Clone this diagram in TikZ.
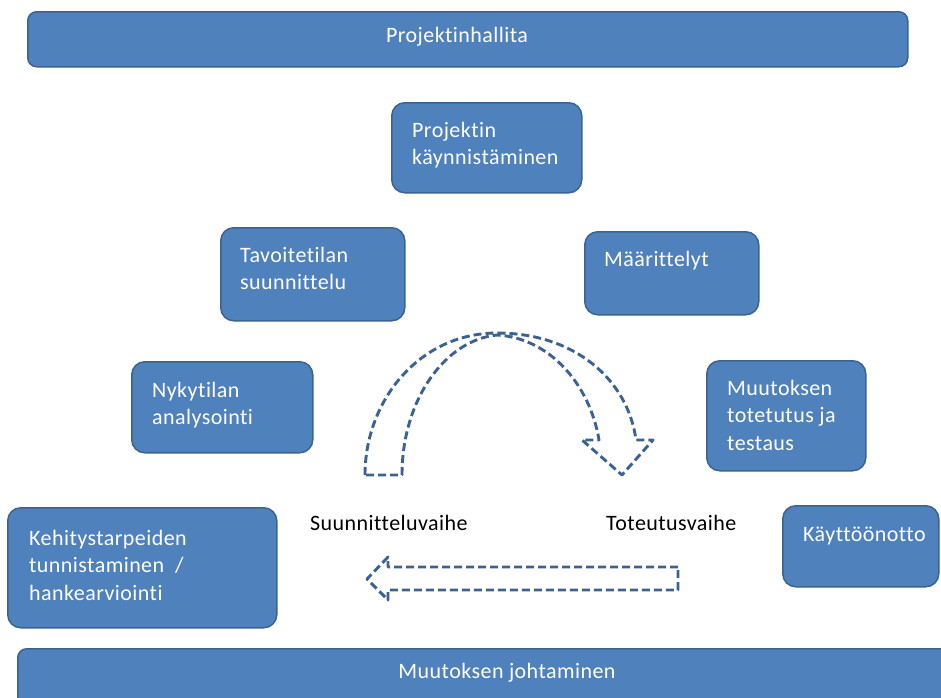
\documentclass[tikz,border=0pt]{standalone}
\usepackage{fontspec}
\setmainfont{Carlito}[LetterSpace=2, Ligatures={NoCommon}]
\definecolor{boxfill}{HTML}{4F81BD}
\definecolor{boxline}{HTML}{3A6391}
\definecolor{arrowline}{HTML}{3B6290}

\begin{document}
\begin{tikzpicture}[x=1pt,y=-1pt,
  box/.style={draw=boxline, line width=1.5pt, fill=boxfill, rounded corners=13pt,
              anchor=north west, inner sep=0pt},
  bar/.style={box, rounded corners=9pt},
  % multi-line labels are anchored at the baseline of their last line
  txt/.style={text=white, font=\fontsize{22}{27.5}\selectfont, anchor=base west,
              inner sep=0pt, align=left},
  bartxt/.style={text=white, font=\fontsize{22}{27.5}\selectfont, anchor=base, inner sep=0pt},
  phase/.style={text=black, font=\fontsize{22}{27.5}\selectfont, anchor=base west, inner sep=0pt},
  flow/.style={draw=arrowline, line width=2.9pt, dash pattern=on 8pt off 4pt,
               line join=round, line cap=butt}]
\useasboundingbox (0,0) rectangle (941,697);

% management bars
\node[bar, minimum width=880pt, minimum height=55pt] (pm) at (27,11) {};
\node[bartxt] (pmt) at (457,42) {Projektinhallita};
\node[bar, minimum width=940pt, minimum height=60pt] (cm) at (17,648) {};
\node[bartxt] (cmt) at (507,678) {Muutoksen johtaminen};

% phase boxes
\node[box, minimum width=190pt, minimum height=90pt] (start) at (391,102) {};
\node[txt] at (412,164.5) {Projektin\\käynnistäminen};

\node[box, minimum width=184pt, minimum height=93pt] (target) at (220,227) {};
\node[txt] at (240,289.5) {Tavoitetilan\\suunnittelu};

\node[box, minimum width=174pt, minimum height=83pt] (spec) at (584,231) {};
\node[txt] at (604,266) {Määrittelyt};

\node[box, minimum width=181pt, minimum height=91pt] (current) at (131,361) {};
\node[txt] at (152,424.5) {Nykytilan\\analysointi};

\node[box, minimum width=159pt, minimum height=110pt] (impl) at (706,360) {};
\node[txt] at (727,450) {Muutoksen\\totetutus ja\\testaus};

\node[box, minimum width=269pt, minimum height=120pt] (needs) at (7,507) {};
\node[txt] at (29,600) {Kehitystarpeiden\\tunnistaminen\ \ /\\hankearviointi};

\node[box, minimum width=156pt, minimum height=81pt] (deploy) at (782,505) {};
\node[txt] at (803,541) {Käyttöönotto};

% phase labels
\node[phase] (plan) at (310,530) {Suunnitteluvaihe};
\node[phase] (exec) at (606,530) {Toteutusvaihe};

% curved block arrow from planning to execution
\draw[flow] (365,475)
  .. controls (365,400) and (420,333) .. (497,333)
  .. controls (575,333) and (628,380) .. (636,440)
  -- (653,440) -- (622,475) -- (582,440) -- (599,440)
  .. controls (590,385) and (550,338) .. (497,335)
  .. controls (445,340) and (402,400) .. (402,475)
  -- cycle;

% straight block arrow back to planning
\draw[flow] (678,567) -- (388,567) -- (388,557) -- (367,579) -- (388,600)
  -- (388,590) -- (678,590) -- cycle;
\end{tikzpicture}
\end{document}
